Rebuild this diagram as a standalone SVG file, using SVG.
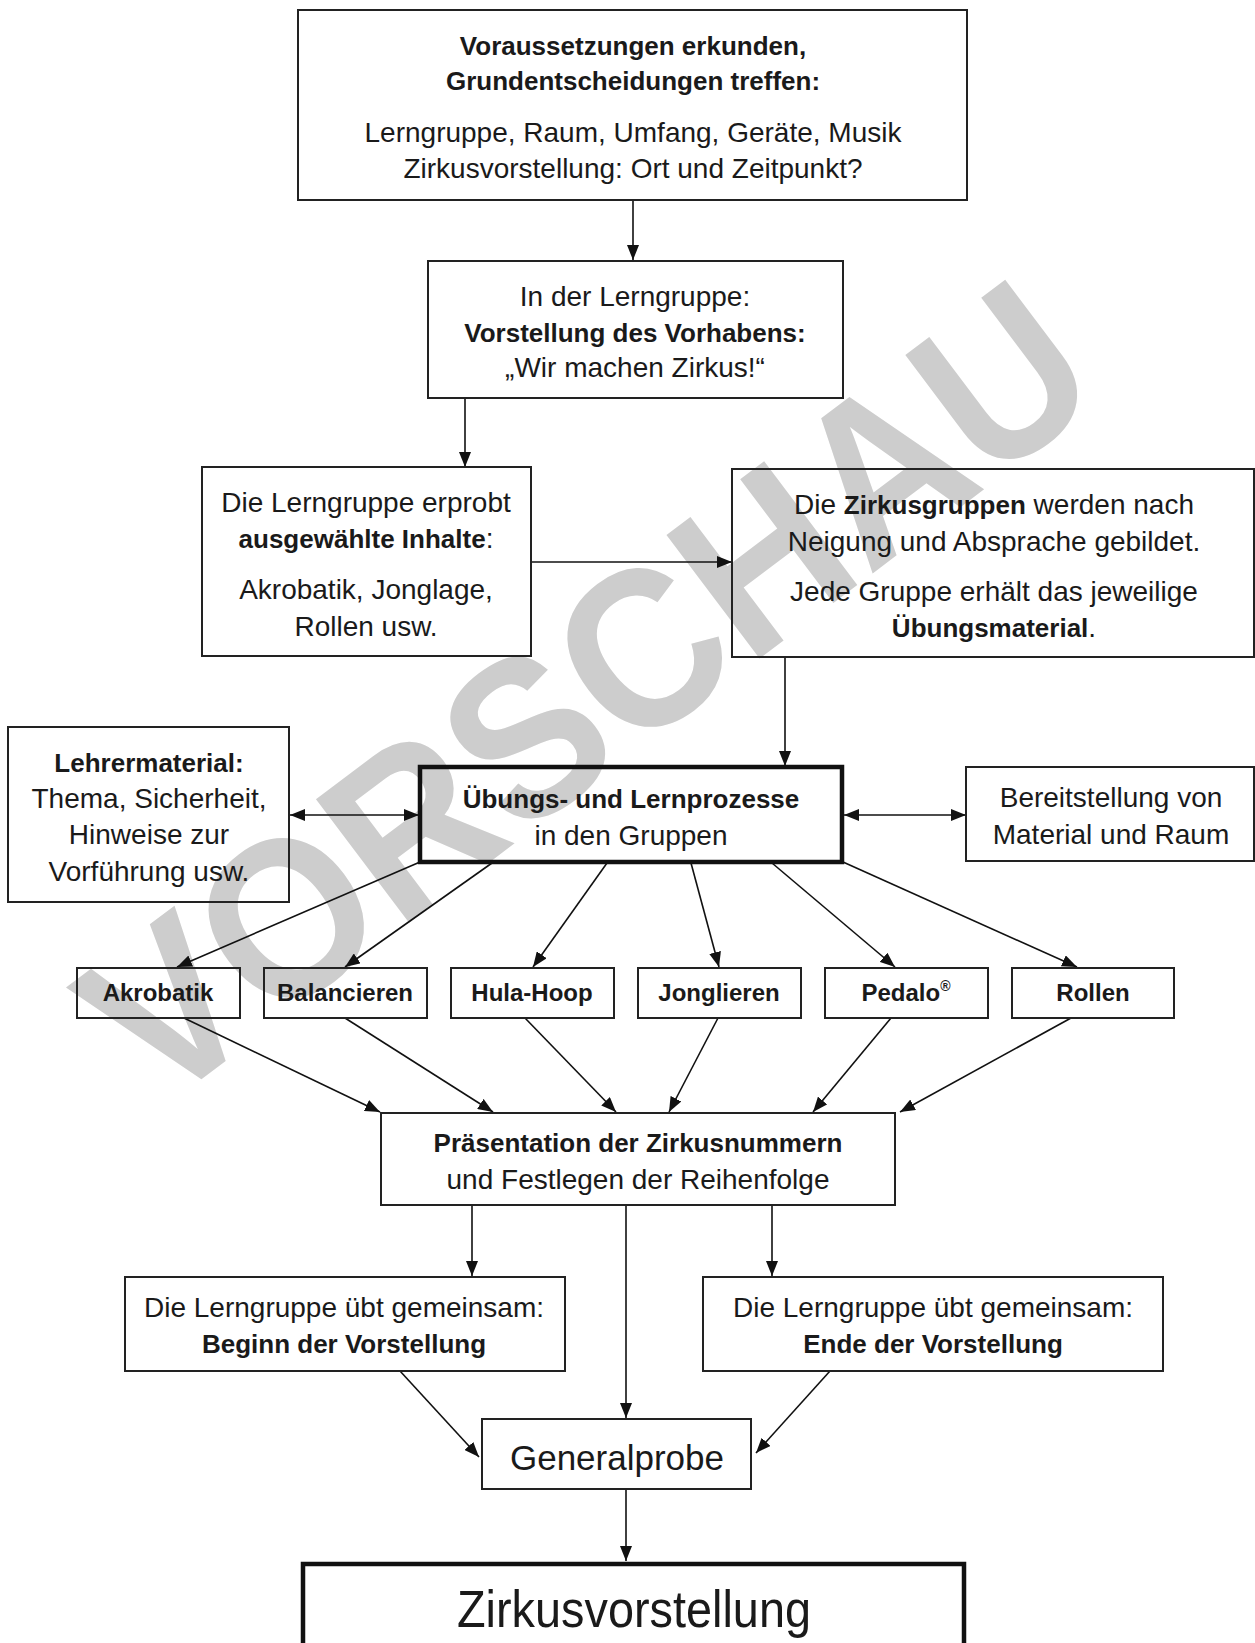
<svg xmlns="http://www.w3.org/2000/svg" width="1255" height="1643" viewBox="0 0 1255 1643">
<style>
text{font-family:"Liberation Sans",Arial,sans-serif;fill:#1a1a1a;text-anchor:middle}
.r{font-size:28px}
.b{font-size:26px;font-weight:bold}
.s{font-size:24px;font-weight:bold}
.box{fill:none;stroke:#222;stroke-width:2}
.thick{fill:none;stroke:#111;stroke-width:4.5}
.c{fill:none;stroke:#111;stroke-width:1.6}
.wm{font-family:"Liberation Sans",Arial,sans-serif;font-weight:bold;fill:#cdcdcd;font-size:225px}
</style>
<defs>
<marker id="a" markerUnits="userSpaceOnUse" markerWidth="16" markerHeight="12" refX="15" refY="6" orient="auto-start-reverse" viewBox="0 0 16 12">
<path d="M0,0 L15,6 L0,12 z" fill="#111"/>
</marker>
</defs>
<rect width="1255" height="1643" fill="#fff"/>
<text class="wm" transform="translate(585,690) rotate(-37)" y="80" textLength="1190" lengthAdjust="spacingAndGlyphs">VORSCHAU</text>

<g id="connectors">
<line class="c" x1="633" y1="200" x2="633" y2="260" marker-end="url(#a)"/>
<line class="c" x1="465" y1="398" x2="465" y2="467" marker-end="url(#a)"/>
<line class="c" x1="531" y1="562" x2="732" y2="562" marker-end="url(#a)"/>
<line class="c" x1="785" y1="657" x2="785" y2="766" marker-end="url(#a)"/>
<line class="c" x1="290" y1="815" x2="419" y2="815" marker-start="url(#a)" marker-end="url(#a)"/>
<line class="c" x1="844" y1="815" x2="966" y2="815" marker-start="url(#a)" marker-end="url(#a)"/>
<line class="c" x1="420" y1="862" x2="177" y2="967" marker-end="url(#a)"/>
<line class="c" x1="492" y1="863" x2="345" y2="967" marker-end="url(#a)"/>
<line class="c" x1="607" y1="863" x2="533" y2="967" marker-end="url(#a)"/>
<line class="c" x1="691" y1="863" x2="719" y2="967" marker-end="url(#a)"/>
<line class="c" x1="772" y1="863" x2="895" y2="967" marker-end="url(#a)"/>
<line class="c" x1="843" y1="862" x2="1077" y2="967" marker-end="url(#a)"/>
<line class="c" x1="184" y1="1018" x2="380" y2="1112" marker-end="url(#a)"/>
<line class="c" x1="345" y1="1018" x2="493" y2="1112" marker-end="url(#a)"/>
<line class="c" x1="525" y1="1018" x2="616" y2="1112" marker-end="url(#a)"/>
<line class="c" x1="718" y1="1018" x2="669" y2="1112" marker-end="url(#a)"/>
<line class="c" x1="891" y1="1018" x2="813" y2="1112" marker-end="url(#a)"/>
<line class="c" x1="1071" y1="1018" x2="900" y2="1112" marker-end="url(#a)"/>
<line class="c" x1="472" y1="1205" x2="472" y2="1276" marker-end="url(#a)"/>
<line class="c" x1="626" y1="1205" x2="626" y2="1418" marker-end="url(#a)"/>
<line class="c" x1="772" y1="1205" x2="772" y2="1276" marker-end="url(#a)"/>
<line class="c" x1="400" y1="1371" x2="479" y2="1457" marker-end="url(#a)"/>
<line class="c" x1="830" y1="1371" x2="756" y2="1453" marker-end="url(#a)"/>
<line class="c" x1="626" y1="1489" x2="626" y2="1561" marker-end="url(#a)"/>
</g>

<g id="n-voraussetzungen">
<rect class="box" x="298" y="10" width="669" height="190"/>
<text class="b" x="633" y="55">Voraussetzungen erkunden,</text>
<text class="b" x="633" y="90">Grundentscheidungen treffen:</text>
<text class="r" x="633" y="142">Lerngruppe, Raum, Umfang, Geräte, Musik</text>
<text class="r" x="633" y="178">Zirkusvorstellung: Ort und Zeitpunkt?</text>
</g>

<g id="n-vorhaben">
<rect class="box" x="428" y="261" width="415" height="137"/>
<text class="r" x="635" y="306">In der Lerngruppe:</text>
<text class="b" x="635" y="342">Vorstellung des Vorhabens:</text>
<text class="r" x="635" y="377">„Wir machen Zirkus!“</text>
</g>

<g id="n-erprobt">
<rect class="box" x="202" y="467" width="329" height="189"/>
<text class="r" x="366" y="512">Die Lerngruppe erprobt</text>
<text class="r" x="366" y="548"><tspan font-weight="bold" font-size="26">ausgewählte Inhalte</tspan>:</text>
<text class="r" x="366" y="599">Akrobatik, Jonglage,</text>
<text class="r" x="366" y="636">Rollen usw.</text>
</g>

<g id="n-zirkusgruppen">
<rect class="box" x="732" y="469" width="522" height="188"/>
<text class="r" x="994" y="514">Die <tspan font-weight="bold" font-size="26">Zirkusgruppen</tspan> werden nach</text>
<text class="r" x="994" y="551">Neigung und Absprache gebildet.</text>
<text class="r" x="994" y="601">Jede Gruppe erhält das jeweilige</text>
<text class="r" x="994" y="637"><tspan font-weight="bold" font-size="26">Übungsmaterial</tspan>.</text>
</g>

<g id="n-lehrermaterial">
<rect class="box" x="8" y="727" width="281" height="175"/>
<text class="b" x="149" y="772">Lehrermaterial:</text>
<text class="r" x="149" y="808">Thema, Sicherheit,</text>
<text class="r" x="149" y="844">Hinweise zur</text>
<text class="r" x="149" y="881">Vorführung usw.</text>
</g>

<g id="n-uebungen">
<rect class="thick" x="420" y="767" width="422" height="95"/>
<text class="b" x="631" y="808">Übungs- und Lernprozesse</text>
<text class="r" x="631" y="845">in den Gruppen</text>
</g>

<g id="n-bereitstellung">
<rect class="box" x="966" y="767" width="288" height="94"/>
<text class="r" x="1111" y="807">Bereitstellung von</text>
<text class="r" x="1111" y="844">Material und Raum</text>
</g>

<g id="n-akrobatik">
<rect class="box" x="77" y="968" width="163" height="50"/>
<text class="s" x="158" y="1001">Akrobatik</text>
</g>
<g id="n-balancieren">
<rect class="box" x="264" y="968" width="163" height="50"/>
<text class="s" x="345" y="1001">Balancieren</text>
</g>
<g id="n-hulahoop">
<rect class="box" x="451" y="968" width="163" height="50"/>
<text class="s" x="532" y="1001">Hula-Hoop</text>
</g>
<g id="n-jonglieren">
<rect class="box" x="638" y="968" width="163" height="50"/>
<text class="s" x="719" y="1001">Jonglieren</text>
</g>
<g id="n-pedalo">
<rect class="box" x="825" y="968" width="163" height="50"/>
<text class="s" x="906" y="1001">Pedalo<tspan font-size="14" dy="-10">®</tspan></text>
</g>
<g id="n-rollen">
<rect class="box" x="1012" y="968" width="162" height="50"/>
<text class="s" x="1093" y="1001">Rollen</text>
</g>

<g id="n-praesentation">
<rect class="box" x="381" y="1113" width="514" height="92"/>
<text class="b" x="638" y="1152">Präsentation der Zirkusnummern</text>
<text class="r" x="638" y="1189">und Festlegen der Reihenfolge</text>
</g>

<g id="n-beginn">
<rect class="box" x="125" y="1277" width="440" height="94"/>
<text class="r" x="344" y="1317">Die Lerngruppe übt gemeinsam:</text>
<text class="b" x="344" y="1353">Beginn der Vorstellung</text>
</g>

<g id="n-ende">
<rect class="box" x="703" y="1277" width="460" height="94"/>
<text class="r" x="933" y="1317">Die Lerngruppe übt gemeinsam:</text>
<text class="b" x="933" y="1353">Ende der Vorstellung</text>
</g>

<g id="n-generalprobe">
<rect class="box" x="482" y="1419" width="269" height="70"/>
<text x="617" y="1470" font-size="35">Generalprobe</text>
</g>

<g id="n-zirkusvorstellung">
<rect class="thick" x="303" y="1564" width="661" height="100"/>
<text x="634" y="1627" font-size="52" textLength="354" lengthAdjust="spacingAndGlyphs">Zirkusvorstellung</text>
</g>
</svg>
